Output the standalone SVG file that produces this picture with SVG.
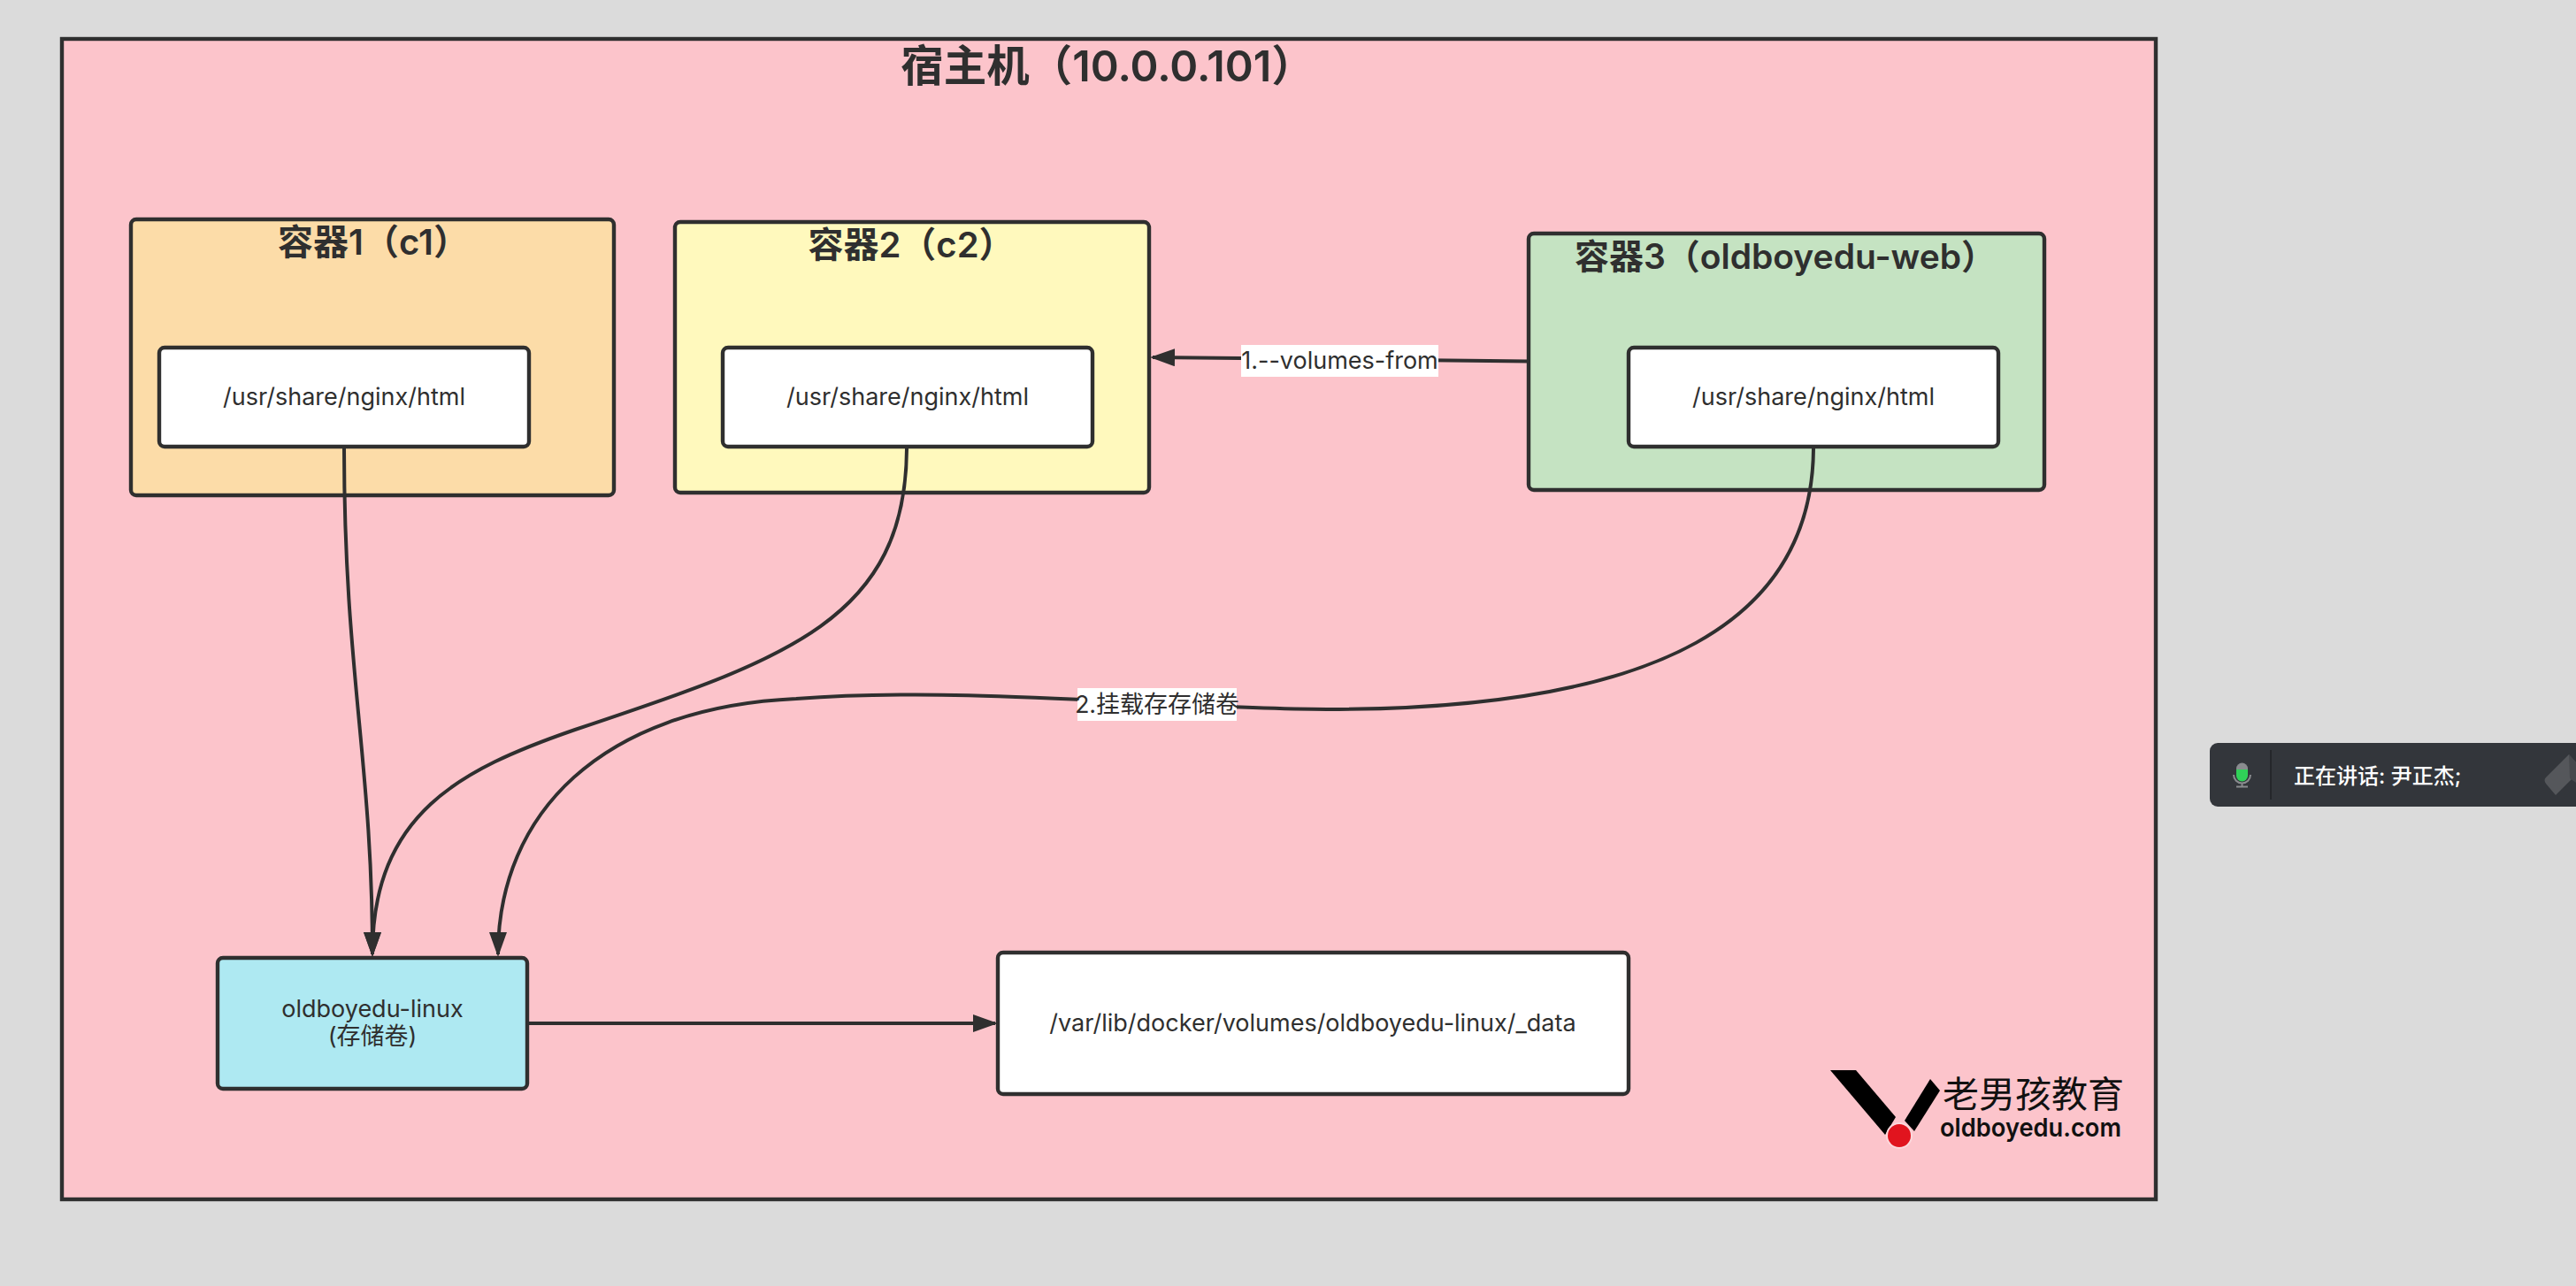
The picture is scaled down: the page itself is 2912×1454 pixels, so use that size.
<svg xmlns="http://www.w3.org/2000/svg" width="2912" height="1454" viewBox="0 0 2912 1454">
<style>
text{font-family:"Inter","Noto Sans CJK SC","Noto Sans",sans-serif;fill:#2f2f2f}
.t{font-size:27px;font-weight:400;text-anchor:middle}
.h{font-size:40px;font-weight:600;text-anchor:middle}
.n{stroke:#2f2f2f;stroke-width:4.400}
.c{fill:none;stroke:#2f2f2f;stroke-width:4}
</style>
<defs>
<marker id="arrow" markerUnits="userSpaceOnUse" markerWidth="30" markerHeight="22" refX="25" refY="10" orient="auto"><path d="M0,0L28,10L0,20Z" fill="#2f2f2f"/></marker>
</defs>
<rect width="2912" height="1454" fill="#dbdbdb"/>
<g id="host"><rect x="70" y="44" width="2367" height="1312" fill="#fcc4cb" stroke="#2f2f2f" stroke-width="4.400"/>
<text x="1252" y="92" style="font-size:48.500px;font-weight:600;text-anchor:middle">宿主机（10.0.0.101）</text></g>
<g id="container1"><rect class="n" x="148" y="248" width="546" height="312" rx="6" fill="#fcdca8"/><text class="h" x="422" y="288">容器1（c1）</text></g>
<g id="container2"><rect class="n" x="763" y="251" width="536" height="306" rx="6" fill="#fff9bd"/><text class="h" x="1030" y="291">容器2（c2）</text></g>
<g id="container3"><rect class="n" x="1728" y="264" width="583" height="290" rx="6" fill="#c5e3c2"/><text class="h" x="2018" y="304" style="font-size:39px">容器3（oldboyedu-web）</text></g>
<g id="path1"><rect class="n" x="180" y="393" width="418" height="112" rx="6" fill="#fff"/><text class="t" x="389" y="458">/usr/share/nginx/html</text></g>
<g id="path2"><rect class="n" x="817" y="393" width="418" height="112" rx="6" fill="#fff"/><text class="t" x="1026" y="458">/usr/share/nginx/html</text></g>
<g id="path3"><rect class="n" x="1841" y="393" width="418" height="112" rx="6" fill="#fff"/><text class="t" x="2050" y="458">/usr/share/nginx/html</text></g>
<g id="volume"><rect class="n" x="246" y="1083" width="350" height="148" rx="6" fill="#aee9f2"/><text class="t" x="421" y="1150">oldboyedu-linux</text><text class="t" x="421" y="1181">(存储卷)</text></g>
<g id="data"><rect class="n" x="1128" y="1077" width="713" height="160" rx="6" fill="#fff"/><text class="t" x="1484" y="1166">/var/lib/docker/volumes/oldboyedu-linux/_data</text></g>
<g id="connectors">
<path class="c" d="M389,505C389,760 421,860 421,1079" marker-end="url(#arrow)"/>
<path class="c" d="M1025,505C1025,700 890,745 650,825C520,870 421,920 421,1079" marker-end="url(#arrow)"/>
<path class="c" d="M2050,505C2050,700 1880,802 1500,802C1330,802 1100,775 900,790C680,800 563,920 563,1079" marker-end="url(#arrow)"/>
<path class="c" d="M595,1157H1125" marker-end="url(#arrow)"/>
<path class="c" d="M1728,408.500L1303,404" marker-end="url(#arrow)"/>
<rect x="1403" y="390" width="223" height="36" fill="#fff"/><text class="t" x="1514.500" y="417">1.--volumes-from</text>
<rect x="1218" y="778" width="180" height="37" fill="#fff"/><text class="t" x="1308" y="806">2.挂载存存储卷</text>
</g>
<g id="logo">
<path d="M2069,1210H2098L2143,1263L2131,1283Z" fill="#000"/>
<path d="M2182,1220L2193,1233L2164,1279L2153,1267Z" fill="#000"/>
<circle cx="2147" cy="1284" r="15" fill="#fcd8dc"/><circle cx="2147" cy="1284" r="13" fill="#e1141e"/>
<text x="2196" y="1252" style="font-size:41px;font-weight:400;fill:#111">老男孩教育</text>
<text x="2193" y="1285" textLength="205" lengthAdjust="spacingAndGlyphs" style="font-size:29px;font-weight:600;fill:#111">oldboyedu.com</text>
</g>
<g id="toast">
<rect x="2498" y="840" width="440" height="72" rx="9" fill="#33363b"/>
<rect x="2566" y="848" width="2" height="56" fill="#25272b"/>
<path d="M2528,869a6.500,6.500 0 0 1 13,0v8h-13z" fill="#8a8c8f"/>
<path d="M2528,870h13v7a6.500,6.500 0 0 1 -13,0z" fill="#30d158"/>
<path d="M2525,876a9.500,9.500 0 0 0 19,0M2534.500,886v3M2528,889.500h13" fill="none" stroke="#8a8c8f" stroke-width="2"/>
<text x="2593" y="886" style="font-size:24px;fill:#fff;font-weight:500">正在讲话: 尹正杰;</text>
<path d="M2904,853L2912,862V876L2889,899L2878,886Q2875,882 2878,879Z" fill="#55575b"/>
<path d="M2904,853L2912,862V885L2905,880Z" fill="#47494d"/>
</g>
</svg>
